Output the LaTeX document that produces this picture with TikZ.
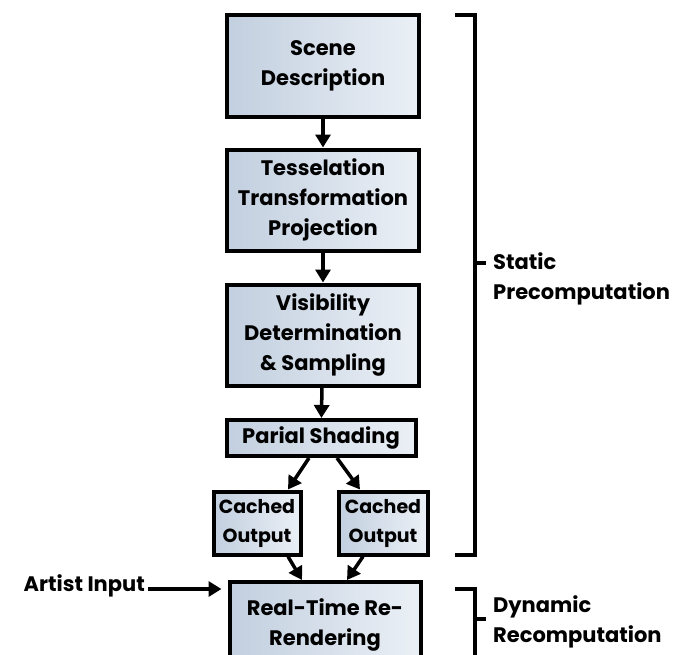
\documentclass[tikz,border=0pt]{standalone}
\usepackage{fontspec}
\setmainfont{Poppins}
\usetikzlibrary{positioning}
\usetikzlibrary{arrows.meta,calc}
\definecolor{boxdark}{HTML}{C2CFDF}
\definecolor{boxlight}{HTML}{EBF0F6}
\tikzstyle{stage}=[rectangle,draw=black,line width=4pt,left color=boxdark,right color=boxlight,align=center,font=\bfseries\fontsize{21}{30}\selectfont,inner sep=0pt]
\tikzstyle{cache}=[stage,font=\bfseries\fontsize{19}{29}\selectfont,minimum height=63]
\tikzstyle{edge} = [draw,line width=3.5pt,-{Triangle[length=13pt,width=15pt]}]
\tikzstyle{bracket} = [draw,line width=3.5pt]
\tikzstyle{side} = [align=left,font=\bfseries\fontsize{21}{30}\selectfont,inner sep=0pt]

\begin{document}
\begin{tikzpicture}[x=1pt,y=-1pt]
  \useasboundingbox (0,0) rectangle (676,654);
  \clip (0,0) rectangle (676,654);

  \def\cx{323};
  \def\w{192};

%stages
  \node[stage,minimum width=\w,minimum height=102] (scene) at (\cx,66) {Scene\\Description};
  \node[stage,minimum width=\w,minimum height=101] (tess) at (\cx,200) {Tesselation\\Transformation\\Projection};
  \node[stage,minimum width=\w,minimum height=101] (vis) at (\cx,335) {Visibility\\Determination\\\& Sampling};
  \node[stage,minimum width=189,minimum height=36] (shade) at (321,438) {Parial Shading};

%caches
  \node[cache,minimum width=87] (cacheA) at (257,523) {Cached\\Output};
  \node[cache,minimum width=89] (cacheB) at (383,523) {Cached\\Output};

%re-rendering
  \node[stage,minimum width=191,minimum height=86] (render) at (325,625) {Real-Time Re-\\Rendering};
  \node[side,anchor=east] (artist) at (145,586) {Artist Input};

% Edges
  \foreach \source/ \dest in {scene/tess, tess/vis, vis/shade}
    \path[edge] (\source) -- (\dest);

  \path[edge] ([xshift=-12pt]shade.south) -- ([xshift=31pt]cacheA.north);
  \path[edge] ([xshift=16pt]shade.south) -- ([xshift=-23pt]cacheB.north);
  \path[edge] ([xshift=31pt]cacheA.south) -- ([xshift=-23pt]render.north);
  \path[edge] ([xshift=-20pt]cacheB.south) -- ([xshift=22pt]render.north);
  \path[edge,shorten >=6pt] (artist.east) ++(3,3) -- (render.west |- 0,589);

%brackets
  \path[bracket] (455,15) -- (475,15) -- (475,555) -- (455,555);
  \path[bracket] (475,263) -- (486,263);
  \node[side,anchor=west] (static) at (493,279) {Static\\Precomputation};

  \path[bracket] (455,589) -- (475,589) -- (475,670);
  \path[bracket] (475,619) -- (486,619);
  \node[side,anchor=west] (dynamic) at (493,622) {Dynamic\\Recomputation};
\end{tikzpicture}
\end{document}
